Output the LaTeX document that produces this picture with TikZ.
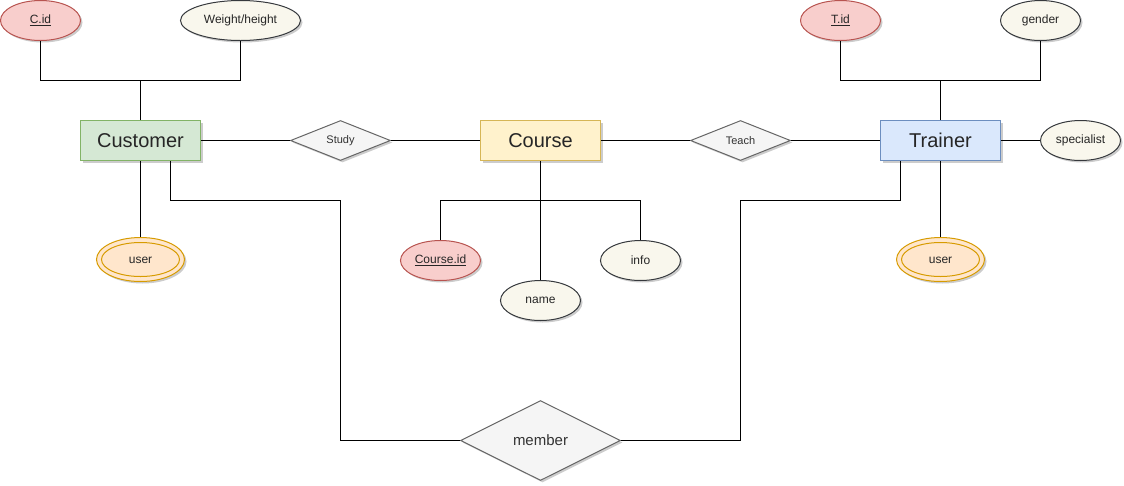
\documentclass[tikz,border=0pt]{standalone}
\usepackage{fontspec}
\setmainfont{Liberation Sans}
\usetikzlibrary{shapes.geometric,shadows}
\definecolor{redF}{HTML}{F8CECC}\definecolor{redD}{HTML}{B85450}
\definecolor{grnF}{HTML}{D5E8D4}\definecolor{grnD}{HTML}{82B366}
\definecolor{ylwF}{HTML}{FFF2CC}\definecolor{ylwD}{HTML}{D6B656}
\definecolor{bluF}{HTML}{DAE8FC}\definecolor{bluD}{HTML}{6C8EBF}
\definecolor{orgF}{HTML}{FFE6CC}\definecolor{orgD}{HTML}{D79B00}
\definecolor{crmF}{HTML}{F9F7ED}\definecolor{crmD}{HTML}{36393D}
\definecolor{dmF}{HTML}{F5F5F5}\definecolor{dmD}{HTML}{666666}
\definecolor{txt}{HTML}{333333}
\begin{document}
\begin{tikzpicture}[x=1pt,y=-1pt,
  shd/.style={drop shadow={shadow xshift=2pt,shadow yshift=-2pt,fill=black,opacity=0.2}},
  entity/.style={rectangle,minimum width=120pt,minimum height=40pt,inner sep=0pt,line width=1pt,shd,text=black!85,font=\fontsize{20}{24}\selectfont},
  attr/.style={ellipse,minimum width=80pt,minimum height=40pt,inner sep=0pt,line width=1pt,shd,fill=crmF,draw=crmD,text=black!85,font=\fontsize{12}{14}\selectfont},
  keyattr/.style={attr,fill=redF,draw=redD},
  rel/.style={diamond,minimum width=100pt,minimum height=40pt,inner sep=0pt,line width=1pt,shd,fill=dmF,draw=dmD,text=txt,font=\fontsize{11}{13}\selectfont},
  multi/.style={attr,minimum width=88pt,minimum height=44pt,fill=orgF,draw=orgD},
  conn/.style={line width=1pt,black}]
\useasboundingbox (-0.5,-0.5) rectangle (1123.5,484.5);
% nodes
\node[keyattr] (cid) at (40,20) {\underline{C.id}};
\node[attr,minimum width=120pt] (wh) at (240,20) {Weight/height};
\node[entity,fill=grnF,draw=grnD] (cust) at (140,140) {Customer};
\node[rel] (study) at (340,140) {Study};
\node[entity,fill=ylwF,draw=ylwD] (course) at (540,140) {Course};
\node[rel] (teach) at (740,140) {Teach};
\node[entity,fill=bluF,draw=bluD] (trainer) at (940,140) {Trainer};
\node[attr] (spec) at (1080,140) {specialist};
\node[keyattr] (tid) at (840,20) {\underline{T.id}};
\node[attr] (gender) at (1040,20) {gender};
\node[multi] (user1) at (140,259) {};
\draw[line width=1pt,draw=orgD] (user1.center) ellipse [x radius=39pt,y radius=17pt];
\node[text=black!85,font=\fontsize{12}{14}\selectfont] (u1t) at (140,260) {user};
\node[multi] (user2) at (940,259) {};
\draw[line width=1pt,draw=orgD] (user2.center) ellipse [x radius=39pt,y radius=17pt];
\node[text=black!85,font=\fontsize{12}{14}\selectfont] (u2t) at (940,260) {user};
\node[keyattr] (cidc) at (440,260) {\underline{Course.id}};
\node[attr] (info) at (640,260) {info};
\node[attr] (name) at (540,300) {name};
\node[rel,minimum width=160pt,minimum height=80pt,font=\fontsize{15}{18}\selectfont] (member) at (540,440) {member};
% junctions
\coordinate (j1) at (140,80);
\coordinate (j2) at (340,200);
\coordinate (j3) at (740,200);
\coordinate (j4) at (540,200);
\coordinate (j5) at (940,80);
% connectors
\draw[conn] (cid.south) |- (j1) -| (wh.south);
\draw[conn] (cust.north) -- (j1);
\draw[conn] (tid.south) |- (j5) -| (gender.south);
\draw[conn] (trainer.north) -- (j5);
\draw[conn] (cust.east) -- (study.west);
\draw[conn] (study.east) -- (course.west);
\draw[conn] (course.east) -- (teach.west);
\draw[conn] (teach.east) -- (trainer.west);
\draw[conn] (trainer.east) -- (spec.west);
\draw[conn] (cust.south) -- (user1.north);
\draw[conn] (trainer.south) -- (user2.north);
\draw[conn] (course.south) -- (name.north);
\draw[conn] (cidc.north) |- (j4) -| (info.north);
\draw[conn] ([xshift=30pt]cust.south) |- (j2) |- (member.west);
\draw[conn] (member.east) -| (j3) -| ([xshift=-40pt]trainer.south);
\end{tikzpicture}
\end{document}
